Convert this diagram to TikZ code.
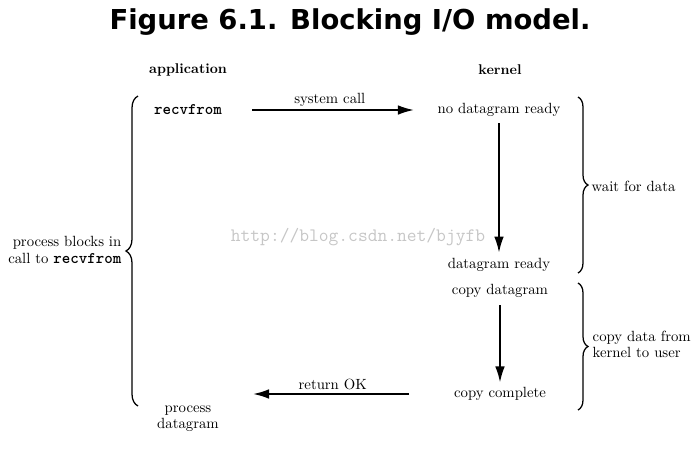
\documentclass[tikz,border=0pt]{standalone}
\usepackage{fontspec}
\newfontfamily\titlefont{DejaVu Sans}
\usetikzlibrary{arrows.meta,positioning,decorations.pathreplacing}

\begin{document}
\begin{tikzpicture}[x=0.025cm, y=-0.025cm,
    lbl/.style={font=\fontsize{10.5}{11.5}\selectfont, inner sep=1pt},
    head/.style={font=\fontsize{10}{12}\selectfont\bfseries, inner sep=1pt},
    code/.style={font=\fontsize{11.5}{12}\selectfont\ttfamily\bfseries, inner sep=1pt},
    arr/.style={-{Latex[length=4mm,width=2.4mm]}, line width=1.3pt},
    brc/.style={decorate, decoration={brace, amplitude=#1}, line width=0.9pt}]
  \useasboundingbox (0,0) rectangle (696,450);
  %% ── Title ─────────────────────────────────────────────
  \node[font=\titlefont\bfseries\fontsize{19.5}{22}\selectfont] (title) at (350,22)
    {Figure 6.1. Blocking I/O model.};
  %% ── Column heads ─────────────────────────────────────
  \node[head] (app) at (188,70) {application};
  \node[head] (kern) at (500,70) {kernel};
  %% ── Application side ─────────────────────────────────
  \node[code] (recv) at (188,110) {recvfrom};
  \node[lbl, align=center] (pdgram) at (188,419) {process\\datagram};
  %% ── Kernel side ──────────────────────────────────────
  \node[lbl] (nodg)   at (499,110) {no datagram ready};
  \node[lbl] (dready) at (499,265) {datagram ready};
  \node[lbl] (copyd)  at (500,291) {copy datagram};
  \node[lbl] (copyc)  at (500,394) {copy complete};
  \coordinate (retend) at (253,394);
  %% ── Arrows ───────────────────────────────────────────
  \draw[arr, shorten <=0.72cm, shorten >=0.55cm] (recv.east) -- (nodg.west)
    node[midway, above=1pt, lbl] (syscall) {system call};
  \draw[arr, shorten <=0.12cm, shorten >=0.1cm] (nodg.south) -- (dready.north);
  \draw[arr, shorten <=0.15cm, shorten >=0.08cm] (copyd.south) -- (copyc.north);
  \draw[arr, shorten <=1.08cm] (copyc.west) -- (retend)
    node[pos=0.6, above=1pt, lbl] (retok) {return OK};
  %% ── Braces ───────────────────────────────────────────
  \draw[brc=0.3cm] (138,406) -- (138,96);
  \draw[brc=0.25cm] (578,97) -- (578,273);
  \draw[brc=0.25cm] (578,283) -- (578,410);
  %% Brace labels
  \node[lbl, align=right, anchor=east] (blk) at (123,250)
    {process blocks in\\call to {\ttfamily\bfseries\fontsize{11.5}{11.5}\selectfont recvfrom}};
  \node[lbl, anchor=west] (wait) at (590,186) {wait for data};
  \node[lbl, align=left, anchor=west] (cpy) at (591,344)
    {copy data from\\kernel to user};
  %% ── Watermark ────────────────────────────────────────
  \node[font=\ttfamily\fontsize{13.5}{15}\selectfont, text=gray!45] (wm) at (358,237)
    {http://blog.csdn.net/bjyfb};
\end{tikzpicture}
\end{document}
